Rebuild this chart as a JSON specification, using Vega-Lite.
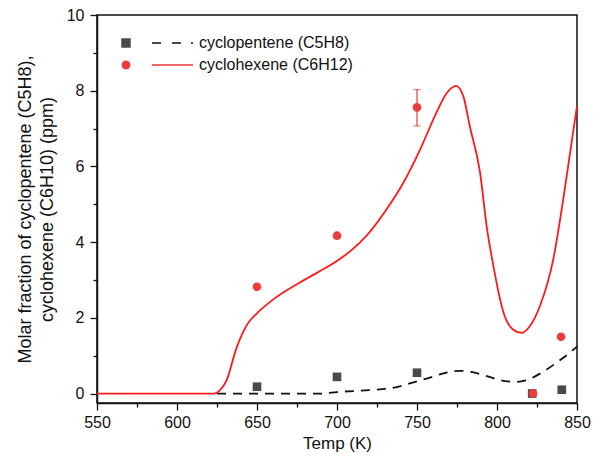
{
  "$schema": "https://vega.github.io/schema/vega-lite/v6.json",
  "width": 480,
  "height": 388,
  "autosize": "none",
  "padding": {"left": 97, "top": 15, "right": 25, "bottom": 64},
  "background": "white",
  "config": {
    "view": {"stroke": "#111111", "strokeWidth": 1.5},
    "font": "Liberation Sans",
    "axis": {"grid": false, "domainColor": "#111111", "domainWidth": 1.5, "tickColor": "#111111", "tickWidth": 1.3, "labelColor": "#111111", "titleColor": "#111111", "labelFont": "Liberation Sans", "titleFont": "Liberation Sans", "labelFontSize": 16, "titleFontSize": 17, "titleFontWeight": "normal"}
  },
  "datasets": {
    "curves": [
      {"T": 625, "v": 0, "s": "C5H8"}, {"T": 690, "v": 0, "s": "C5H8"}, {"T": 700, "v": 0.04, "s": "C5H8"}, {"T": 720, "v": 0.09, "s": "C5H8"}, {"T": 735, "v": 0.15, "s": "C5H8"}, {"T": 745, "v": 0.26, "s": "C5H8"}, {"T": 758, "v": 0.42, "s": "C5H8"}, {"T": 769, "v": 0.56, "s": "C5H8"}, {"T": 777, "v": 0.6, "s": "C5H8"}, {"T": 784, "v": 0.57, "s": "C5H8"}, {"T": 793, "v": 0.47, "s": "C5H8"}, {"T": 805, "v": 0.33, "s": "C5H8"}, {"T": 812, "v": 0.31, "s": "C5H8"}, {"T": 818, "v": 0.35, "s": "C5H8"}, {"T": 829, "v": 0.58, "s": "C5H8"}, {"T": 838, "v": 0.84, "s": "C5H8"}, {"T": 845, "v": 1.06, "s": "C5H8"}, {"T": 850, "v": 1.24, "s": "C5H8"},
      {"T": 550, "v": 0, "s": "C6H12"}, {"T": 600, "v": 0, "s": "C6H12"}, {"T": 623, "v": 0, "s": "C6H12"}, {"T": 627, "v": 0.1, "s": "C6H12"}, {"T": 631, "v": 0.35, "s": "C6H12"}, {"T": 637, "v": 1.18, "s": "C6H12"}, {"T": 643.5, "v": 1.8, "s": "C6H12"}, {"T": 650, "v": 2.12, "s": "C6H12"}, {"T": 660, "v": 2.48, "s": "C6H12"}, {"T": 677, "v": 2.94, "s": "C6H12"}, {"T": 690, "v": 3.25, "s": "C6H12"}, {"T": 701.6, "v": 3.55, "s": "C6H12"}, {"T": 710, "v": 3.82, "s": "C6H12"}, {"T": 718.5, "v": 4.17, "s": "C6H12"}, {"T": 731, "v": 4.87, "s": "C6H12"}, {"T": 741.5, "v": 5.57, "s": "C6H12"}, {"T": 752, "v": 6.45, "s": "C6H12"}, {"T": 762, "v": 7.41, "s": "C6H12"}, {"T": 768.6, "v": 7.94, "s": "C6H12"}, {"T": 774.4, "v": 8.13, "s": "C6H12"}, {"T": 779, "v": 7.85, "s": "C6H12"}, {"T": 783, "v": 7.06, "s": "C6H12"}, {"T": 789.4, "v": 5.84, "s": "C6H12"}, {"T": 793.5, "v": 4.43, "s": "C6H12"}, {"T": 797.7, "v": 3.38, "s": "C6H12"}, {"T": 804, "v": 2.15, "s": "C6H12"}, {"T": 810, "v": 1.69, "s": "C6H12"}, {"T": 815.4, "v": 1.6, "s": "C6H12"}, {"T": 820, "v": 1.75, "s": "C6H12"}, {"T": 826.9, "v": 2.32, "s": "C6H12"}, {"T": 835.2, "v": 3.55, "s": "C6H12"}, {"T": 841.4, "v": 5.13, "s": "C6H12"}, {"T": 846.6, "v": 6.63, "s": "C6H12"}, {"T": 850, "v": 7.59, "s": "C6H12"}
    ],
    "pts": [
      {"T": 650, "v": 0.18, "s": "cyclopentene (C5H8)"}, {"T": 700, "v": 0.44, "s": "cyclopentene (C5H8)"}, {"T": 750, "v": 0.55, "s": "cyclopentene (C5H8)"}, {"T": 822, "v": 0.0, "s": "cyclopentene (C5H8)"}, {"T": 840.5, "v": 0.1, "s": "cyclopentene (C5H8)"},
      {"T": 650, "v": 2.82, "s": "cyclohexene (C6H12)"}, {"T": 700, "v": 4.17, "s": "cyclohexene (C6H12)"}, {"T": 750, "v": 7.56, "s": "cyclohexene (C6H12)"}, {"T": 822.5, "v": 0.0, "s": "cyclohexene (C6H12)"}, {"T": 840, "v": 1.5, "s": "cyclohexene (C6H12)"}
    ],
    "err": [{"T": 750, "lo": 7.07, "hi": 8.03}],
    "xticks": [
      {"T": 550, "k": "major"}, {"T": 575, "k": "minor"}, {"T": 600, "k": "major"}, {"T": 625, "k": "minor"}, {"T": 650, "k": "major"}, {"T": 675, "k": "minor"}, {"T": 700, "k": "major"}, {"T": 725, "k": "minor"}, {"T": 750, "k": "major"}, {"T": 775, "k": "minor"}, {"T": 800, "k": "major"}, {"T": 825, "k": "minor"}, {"T": 850, "k": "major"}
    ],
    "yticks": [
      {"v": 0, "k": "major"}, {"v": 1, "k": "minor"}, {"v": 2, "k": "major"}, {"v": 3, "k": "minor"}, {"v": 4, "k": "major"}, {"v": 5, "k": "minor"}, {"v": 6, "k": "major"}, {"v": 7, "k": "minor"}, {"v": 8, "k": "major"}, {"v": 9, "k": "minor"}, {"v": 10, "k": "major"}
    ]
  },
  "encoding": {
    "x": {"field": "T", "type": "quantitative", "scale": {"domain": [550, 850], "nice": false, "zero": false},
      "axis": {"orient": "bottom", "values": [550, 575, 600, 625, 650, 675, 700, 725, 750, 775, 800, 825, 850], "format": "d", "labelExpr": "datum.value % 50 === 0 ? datum.label : ''", "tickSize": {"condition": {"test": "datum.value % 50 === 0", "value": 7}, "value": 4}, "labelPadding": 4, "title": "Temp (K)", "titleFontSize": 17, "titlePadding": 5, "labelFlush": false, "labelOverlap": false}},
    "y": {"field": "v", "type": "quantitative", "scale": {"domain": [-0.25, 10], "nice": false, "zero": false},
      "axis": {"orient": "left", "values": [0, 1, 2, 3, 4, 5, 6, 7, 8, 9, 10], "labelExpr": "datum.value % 2 === 0 ? datum.label : ''", "tickSize": {"condition": {"test": "datum.value % 2 === 0", "value": 7}, "value": 4}, "labelPadding": 6, "title": ["Molar fraction of cyclopentene (C5H8),", "cyclohexene (C6H10) (ppm)"], "titleFontSize": 18, "titleLineHeight": 22, "titlePadding": 10, "labelFlush": false, "labelOverlap": false}}
  },
  "layer": [
    {
      "data": {"name": "curves"},
      "transform": [{"filter": "datum.s === 'C5H8'"}],
      "mark": {"type": "line", "color": "#111111", "strokeWidth": 1.8, "strokeDash": [9, 7], "interpolate": "monotone"}
    },
    {
      "data": {"name": "curves"},
      "transform": [{"filter": "datum.s === 'C6H12'"}],
      "mark": {"type": "line", "color": "#ff1a1a", "strokeWidth": 1.8, "interpolate": "monotone"}
    },
    {
      "data": {"name": "xticks"},
      "transform": [{"filter": "datum.k === 'major'"}],
      "mark": {"type": "rule", "color": "#111111", "strokeWidth": 1.4},
      "encoding": {
        "y": {"datum": 10, "type": "quantitative",
          "axis": {"orient": "left", "values": [0, 1, 2, 3, 4, 5, 6, 7, 8, 9, 10], "labelExpr": "datum.value % 2 === 0 ? datum.label : ''", "tickSize": {"condition": {"test": "datum.value % 2 === 0", "value": 7}, "value": 4}, "labelPadding": 6, "title": ["Molar fraction of cyclopentene (C5H8),", "cyclohexene (C6H10) (ppm)"], "titleFontSize": 18, "titleLineHeight": 22, "titlePadding": 10, "labelFlush": false, "labelOverlap": false}},
        "y2": {"datum": 9.83}
      }
    },
    {
      "data": {"name": "xticks"},
      "transform": [{"filter": "datum.k === 'minor'"}],
      "mark": {"type": "rule", "color": "#111111", "strokeWidth": 1.4},
      "encoding": {
        "y": {"datum": 10, "type": "quantitative",
          "axis": {"orient": "left", "values": [0, 1, 2, 3, 4, 5, 6, 7, 8, 9, 10], "labelExpr": "datum.value % 2 === 0 ? datum.label : ''", "tickSize": {"condition": {"test": "datum.value % 2 === 0", "value": 7}, "value": 4}, "labelPadding": 6, "title": ["Molar fraction of cyclopentene (C5H8),", "cyclohexene (C6H10) (ppm)"], "titleFontSize": 18, "titleLineHeight": 22, "titlePadding": 10, "labelFlush": false, "labelOverlap": false}},
        "y2": {"datum": 9.91}
      }
    },
    {
      "data": {"name": "yticks"},
      "transform": [{"filter": "datum.k === 'major'"}],
      "mark": {"type": "rule", "color": "#111111", "strokeWidth": 1.4},
      "encoding": {
        "x": {"datum": 850, "type": "quantitative",
          "axis": {"orient": "bottom", "values": [550, 575, 600, 625, 650, 675, 700, 725, 750, 775, 800, 825, 850], "format": "d", "labelExpr": "datum.value % 50 === 0 ? datum.label : ''", "tickSize": {"condition": {"test": "datum.value % 50 === 0", "value": 7}, "value": 4}, "labelPadding": 4, "title": "Temp (K)", "titleFontSize": 17, "titlePadding": 5, "labelFlush": false, "labelOverlap": false}},
        "x2": {"datum": 846.2}
      }
    },
    {
      "data": {"name": "yticks"},
      "transform": [{"filter": "datum.k === 'minor'"}],
      "mark": {"type": "rule", "color": "#111111", "strokeWidth": 1.4},
      "encoding": {
        "x": {"datum": 850, "type": "quantitative",
          "axis": {"orient": "bottom", "values": [550, 575, 600, 625, 650, 675, 700, 725, 750, 775, 800, 825, 850], "format": "d", "labelExpr": "datum.value % 50 === 0 ? datum.label : ''", "tickSize": {"condition": {"test": "datum.value % 50 === 0", "value": 7}, "value": 4}, "labelPadding": 4, "title": "Temp (K)", "titleFontSize": 17, "titlePadding": 5, "labelFlush": false, "labelOverlap": false}},
        "x2": {"datum": 847.8}
      }
    },
    {
      "data": {"name": "err"},
      "mark": {"type": "errorbar", "color": "#ee3b3b", "thickness": 1.2, "ticks": {"size": 7, "color": "#ee3b3b", "thickness": 1.2}},
      "encoding": {
        "y": {"field": "lo", "type": "quantitative",
          "axis": {"orient": "left", "values": [0, 1, 2, 3, 4, 5, 6, 7, 8, 9, 10], "labelExpr": "datum.value % 2 === 0 ? datum.label : ''", "tickSize": {"condition": {"test": "datum.value % 2 === 0", "value": 7}, "value": 4}, "labelPadding": 6, "title": ["Molar fraction of cyclopentene (C5H8),", "cyclohexene (C6H10) (ppm)"], "titleFontSize": 18, "titleLineHeight": 22, "titlePadding": 10, "labelFlush": false, "labelOverlap": false}},
        "y2": {"field": "hi"}
      }
    },
    {
      "data": {"name": "pts"},
      "transform": [{"filter": "datum.s === 'cyclopentene (C5H8)'"}],
      "mark": {"type": "point", "shape": "square", "filled": true, "size": 75, "color": "#4a4a4a", "opacity": 1}
    },
    {
      "data": {"name": "pts"},
      "transform": [{"filter": "datum.s === 'cyclohexene (C6H12)'"}],
      "mark": {"type": "point", "shape": "circle", "filled": true, "size": 75, "color": "#ee3b3b", "opacity": 1}
    },
    {
      "data": {"name": "pts"},
      "mark": {"type": "point", "filled": true, "opacity": 0},
      "encoding": {
        "color": {"field": "s", "type": "nominal",
          "scale": {"domain": ["cyclopentene (C5H8)", "cyclohexene (C6H12)"], "range": ["#4a4a4a", "#ee3b3b"]},
          "legend": {"title": null, "orient": "none", "legendX": 21, "legendY": 20, "padding": 0, "symbolOpacity": 1, "symbolSize": 100, "symbolStrokeWidth": 0, "labelFont": "Liberation Sans", "labelFontSize": 16, "labelColor": "#111111", "labelOffset": 65, "rowPadding": 6, "labelLimit": 300}},
        "shape": {"field": "s", "type": "nominal",
          "scale": {"domain": ["cyclopentene (C5H8)", "cyclohexene (C6H12)"], "range": [
            "M-0.95,-0.95H0.95V0.95H-0.95Z M5.2,-0.2H7V0.2H5.2Z M9.2,-0.2H11V0.2H9.2Z M13,-0.2H13.4V0.2H13Z",
            "M0.9,0L0.78,0.45L0.45,0.78L0,0.9L-0.45,0.78L-0.78,0.45L-0.9,0L-0.78,-0.45L-0.45,-0.78L0,-0.9L0.45,-0.78L0.78,-0.45Z M5.2,-0.17H13.4V0.17H5.2Z"
          ]},
          "legend": {"title": null, "orient": "none", "legendX": 21, "legendY": 20, "padding": 0, "symbolOpacity": 1, "symbolSize": 100, "symbolStrokeWidth": 0, "labelFont": "Liberation Sans", "labelFontSize": 16, "labelColor": "#111111", "labelOffset": 65, "rowPadding": 6, "labelLimit": 300}}
      }
    }
  ]
}
